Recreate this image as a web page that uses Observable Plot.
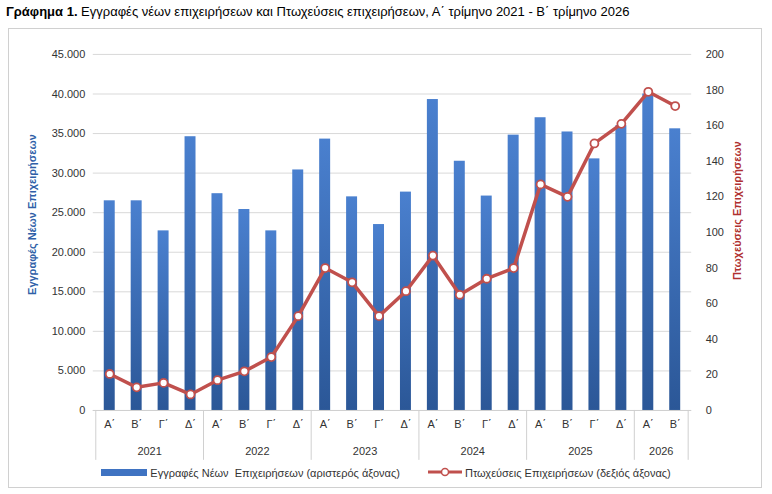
<!DOCTYPE html>
<html><head><meta charset="utf-8">
<script src="https://cdn.jsdelivr.net/npm/d3@7"></script>
<script src="https://cdn.jsdelivr.net/npm/@observablehq/plot@0.6"></script>
<style>
body{margin:0;background:#fff;font-family:"Liberation Sans",Arial,sans-serif;}
#title{position:absolute;left:6px;top:4px;font-size:13px;color:#000;}
#box{position:absolute;left:8px;top:28px;width:754px;height:460px;border:1px solid #d0d0d0;box-sizing:border-box;}
#chart{position:absolute;left:0;top:2px;}
#legend{position:absolute;top:438px;left:0;width:754px;text-align:center;font-size:11px;color:#333;}
#legend span{margin:0 14px;}
</style></head><body>
<div id="title"><b>Γράφημα 1.</b> Εγγραφές νέων επιχειρήσεων και Πτωχεύσεις επιχειρήσεων, Α΄ τρίμηνο 2021 - Β΄ τρίμηνο 2026</div>
<div id="box"><div id="chart"></div>
<div id="legend"><span><svg width="46" height="8"><rect width="46" height="7" fill="#3f73c2"/></svg> Εγγραφές Νέων&nbsp; Επιχειρήσεων (αριστερός άξονας)</span><span><svg width="34" height="10"><line x1="0" x2="34" y1="5" y2="5" stroke="#c0504d" stroke-width="3"/><circle cx="17" cy="5" r="3.5" fill="#fff" stroke="#c0504d" stroke-width="1.5"/></svg> Πτωχεύσεις Επιχειρήσεων (δεξιός άξονας)</span></div>
</div>
<script>
const years=["2021","2022","2023","2024","2025","2026"];
const quarters=["Α΄","Β΄","Γ΄","Δ΄"];
const registrations=[26500,26500,22700,34600, 27400,25400,22700,30400, 34300,27000,23500,27600, 39300,31500,27100,34800, 37000,35200,31800,36000, 40000,35600];
const bankruptcies=[20.5,13,15.5,9, 17,22,30,53, 80,72,53,67, 87,65,74,80, 127,120,150,161, 179,171];
const data=registrations.map((v,i)=>({key:i,year:years[Math.floor(i/4)],q:quarters[i%4],reg:v,bank:bankruptcies[i]}));
const fmt=d=>d3.format(",")(d).replace(/,/g,".");
const K=225;
const yearMark=(index,{x,y},values,dims)=>{
  const g=d3.create("svg:g").attr("font-size",11).attr("fill","#333");
  const bw=x.bandwidth(), step=x.step();
  const y0=dims.height-dims.marginBottom;
  years.forEach((yr,k)=>{
    const keys=data.filter(d=>d.year===yr).map(d=>d.key);
    const x0=x(keys[0])-(step-bw)/2, x1=x(keys[keys.length-1])+bw+(step-bw)/2;
    g.append("line").attr("x1",x0).attr("x2",x0).attr("y1",y0).attr("y2",y0+50).attr("stroke","#d0d0d0");
    if(k===years.length-1) g.append("line").attr("x1",x1).attr("x2",x1).attr("y1",y0).attr("y2",y0+50).attr("stroke","#d0d0d0");
    g.append("text").attr("x",(x0+x1)/2).attr("y",y0+45).attr("text-anchor","middle").text(yr);
  });
  return g.node();
};
const plot=Plot.plot({
  width:754,height:436,marginLeft:84,marginRight:70,marginTop:23,marginBottom:56,
  style:{fontFamily:"Liberation Sans, Arial, sans-serif",fontSize:"11px",color:"#333"},
  x:{domain:data.map(d=>d.key),paddingInner:0.58,paddingOuter:0.29,label:null,tickSize:0,tickFormat:i=>data[i].q,tickPadding:10},
  y:{domain:[0,45000],label:null},
  marks:[
    ()=>{const s=d3.create("svg:defs");const lg=s.append("linearGradient").attr("id","bg").attr("x1",0).attr("x2",0).attr("y1",0).attr("y2",1);
      lg.append("stop").attr("offset","0%").attr("stop-color","#4a80cf");lg.append("stop").attr("offset","100%").attr("stop-color","#2b5797");return s.node();},
    Plot.gridY({ticks:d3.range(0,45001,5000),stroke:"#d9d9d9",strokeOpacity:1}),
    Plot.axisY({ticks:d3.range(0,45001,5000),tickFormat:fmt,tickSize:0,tickPadding:8}),
    Plot.axisY({anchor:"right",ticks:d3.range(0,45001,4500),tickFormat:d=>Math.round(d/K),tickSize:0,tickPadding:14}),
    Plot.barY(data,{x:"key",y:"reg",fill:"url(#bg)"}),
    Plot.ruleY([0],{stroke:"#d0d0d0"}),
    Plot.line(data,{x:"key",y:d=>d.bank*K,stroke:"#c0504d",strokeWidth:3.5}),
    Plot.dot(data,{x:"key",y:d=>d.bank*K,r:4,fill:"#fff",stroke:"#c0504d",strokeWidth:1.8}),
    yearMark,
    Plot.text(["Εγγραφές Νέων Επιχειρήσεων"],{frameAnchor:"left",textAnchor:"middle",dx:-61,dy:-18,rotate:-90,fill:"#2f5fa8",fontWeight:"bold",fontSize:11}),
    Plot.text(["Πτωχεύσεις Επιχειρήσεων"],{frameAnchor:"right",textAnchor:"middle",dx:46,dy:-22,rotate:-90,fill:"#b03030",fontWeight:"bold",fontSize:11})
  ]
});
document.getElementById("chart").append(plot);
</script></body></html>
